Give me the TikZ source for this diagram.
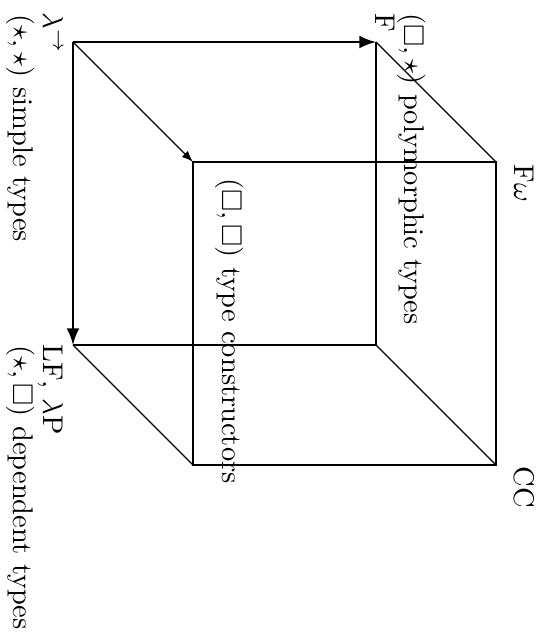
\documentclass[tikz,border=0pt]{standalone}
\usepackage{amssymb}
\usetikzlibrary{arrows}

\begin{document}
\begin{tikzpicture}[x=0.351pt,y=-0.351pt,>=latex,
	edge/.style={line width=1pt},
	depth/.style={line width=0.4pt},
	lbl/.style={rotate=-90,anchor=base west,inner sep=0pt}]
	\useasboundingbox (0,0) rectangle (538,634);
	% corners of the cube
	\coordinate (stlc) at (73,42);
	\coordinate (sysf) at (376,42);
	\coordinate (lp) at (73,345);
	\coordinate (lp2) at (376,345);
	\coordinate (lw) at (193,162);
	\coordinate (fw) at (496,162);
	\coordinate (lpw) at (193,465);
	\coordinate (cc) at (496,465);
	\draw[edge,->] (stlc) -- (sysf);
	\draw[edge,->] (stlc) -- (lp);
	\draw[edge] (sysf) -- (lp2) -- (lp);
	\draw[edge] (lw) -- (fw) -- (cc) -- (lpw) -- cycle;
	\draw[depth,->] (stlc) -- (lw);
	\draw[depth] (sysf) -- (fw);
	\draw[depth] (lp2) -- (cc);
	\draw[depth] (lp) -- (lpw);
	% labels
	\node[lbl] (stlcname) at (43,12) {$\lambda^{\to}$};
	\node[lbl] (stlcrule) at (13,14) {$(\star,\star)$ simple types};
	\node[lbl] (lpname) at (43,344) {LF, $\lambda$P};
	\node[lbl] (lprule) at (13,345) {$(\star,\Box)$ dependent types};
	\node[lbl] (sysfname) at (375,13) {F};
	\node[lbl] (sysfrule) at (404,13) {$(\Box,\star)$ polymorphic types};
	\node[lbl] (lwrule) at (222,178) {$(\Box,\Box)$ type constructors};
	\node[lbl] (fwname) at (514,164) {F$\omega$};
	\node[lbl] (ccname) at (514,466) {CC};
\end{tikzpicture}
\end{document}
